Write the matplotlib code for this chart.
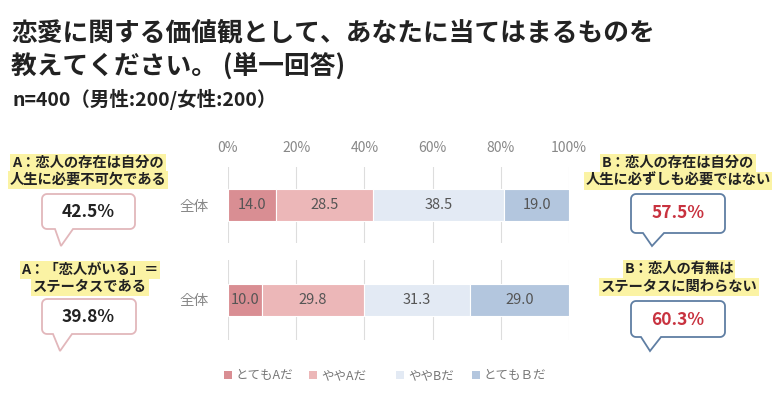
import numpy as np
import matplotlib
matplotlib.use("Agg")
from matplotlib import pyplot as plt
from matplotlib.patches import Polygon, Rectangle

plt.rcParams["font.family"] = ["Noto Sans CJK JP", "DejaVu Sans"]

# data
series = ["とてもAだ", "ややAだ", "ややBだ", "とてもＢだ"]
colors = ["#d98e93", "#ecb7b8", "#e3eaf4", "#b3c6de"]
row_label = "全体"
q1_values = [14.0, 28.5, 38.5, 19.0]
q2_values = [10.0, 29.8, 31.3, 29.0]
q1_a_total, q1_b_total = 42.5, 57.5
q2_a_total, q2_b_total = 39.8, 60.3
q1_a_label = ["A：恋人の存在は自分の", "人生に必要不可欠である"]
q1_b_label = ["B：恋人の存在は自分の", "人生に必ずしも必要ではない"]
q2_a_label = ["A：「恋人がいる」＝", "ステータスである"]
q2_b_label = ["B：恋人の有無は", "ステータスに関わらない"]
ticks = [0, 20, 40, 60, 80, 100]

W, H = 780, 399
fig = plt.figure(figsize=(W / 100, H / 100), dpi=100)

# overlay axes in pixel coords for annotations
ov = fig.add_axes([0, 0, 1, 1])
ov.set_xlim(0, W)
ov.set_ylim(H, 0)
ov.axis("off")

fig.text(11 / W, 1 - 33 / H, "恋愛に関する価値観として、あなたに当てはまるものを",
         fontsize=18.5, fontweight="bold", color="#222222", va="center")
fig.text(11 / W, 1 - 66 / H, "教えてください。 (単一回答)",
         fontsize=18.5, fontweight="bold", color="#222222", va="center")
fig.text(12 / W, 1 - 99 / H, "n=400（男性:200/女性:200）",
         fontsize=14, fontweight="bold", color="#222222", va="center")


def bar_panel(rect, values, top_ticks):
    ax = fig.add_axes(rect)
    left = 0
    for v, c in zip(values, colors):
        ax.barh(0, v, left=left, height=0.41, color=c, edgecolor="white", lw=0.8, zorder=3)
        ax.text(left + v / 2, 0, f"{v:.1f}", ha="center", va="center",
                fontsize=10.5, color="#555555", zorder=4)
        left += v
    ax.set_xlim(0, 100)
    ax.set_ylim(-0.5, 0.5)
    for t in ticks:
        ax.axvline(t, color="#dddddd", lw=0.8, zorder=1)
    for s in ax.spines.values():
        s.set_visible(False)
    ax.set_yticks([0])
    ax.set_yticklabels([row_label], color="#888888", fontsize=10.5)
    ax.tick_params(axis="y", length=0, pad=14)
    if top_ticks:
        ax.xaxis.tick_top()
        ax.set_xticks(ticks)
        ax.set_xticklabels([f"{t}%" for t in ticks], color="#888888", fontsize=10)
        ax.tick_params(axis="x", length=0, pad=9)
    else:
        ax.set_xticks([])
    return ax


bar_panel([228 / W, 1 - 243 / H, 341 / W, 76 / H], q1_values, True)
bar_panel([228 / W, 1 - 340 / H, 341 / W, 80 / H], q2_values, False)


def bubble(x0, x1, y0, y1, tail, edge, r=5):
    # rounded box with a tail on the bottom edge
    tb0, tb1, tx, ty = tail
    pts = []
    for cx, cy, a0 in [(x1 - r, y0 + r, -90), (x1 - r, y1 - r, 0),
                       (x0 + r, y1 - r, 90), (x0 + r, y0 + r, 180)]:
        if a0 == 90:
            pts += [(tb1, y1), (tx, ty), (tb0, y1)]
        ang = np.radians(np.linspace(a0, a0 + 90, 8))
        pts += list(zip(cx + r * np.cos(ang), cy + r * np.sin(ang)))
    ov.add_patch(Polygon(pts, closed=True, facecolor="white", edgecolor=edge, lw=1.3))


def label(xc, y_lines, lines):
    for y, s in zip(y_lines, lines):
        ov.text(xc, y, s, ha="center", va="center", fontsize=10.3, fontweight="bold",
                color="#222222",
                bbox=dict(boxstyle="square,pad=0.12", fc="#fbf3a4", ec="none"))


pink, blue = "#e2b7bb", "#5f7ea3"
label(88, [163, 180], q1_a_label)
bubble(42, 135, 194, 229, (55, 73, 61, 246), pink)
ov.text(88, 212, f"{q1_a_total}%", ha="center", va="center", fontsize=12.5,
        fontweight="bold", color="#222222")

label(678, [163, 181], q1_b_label)
bubble(631, 725, 194, 233, (643, 664, 652, 246), blue)
ov.text(678, 213, f"{q1_b_total}%", ha="center", va="center", fontsize=12.5,
        fontweight="bold", color="#c8323f")

label(90, [270, 287], q2_a_label)
bubble(42, 136, 299, 334, (53, 72, 60, 351), pink)
ov.text(88, 317, f"{q2_a_total}%", ha="center", va="center", fontsize=12.5,
        fontweight="bold", color="#222222")

label(679, [269, 287], q2_b_label)
bubble(631, 725, 301, 337, (641, 661, 650, 351), blue)
ov.text(678, 320, f"{q2_b_total}%", ha="center", va="center", fontsize=12.5,
        fontweight="bold", color="#c8323f")

# legend
leg_x = [224, 309, 396, 472]
for x, c, s in zip(leg_x, colors, series):
    ov.add_patch(Rectangle((x, 371), 8, 8, facecolor=c, edgecolor="none"))
    ov.text(x + 12, 375.5, s, va="center", fontsize=9, color="#777777")

fig.savefig("out.png", dpi=100, facecolor="white")
